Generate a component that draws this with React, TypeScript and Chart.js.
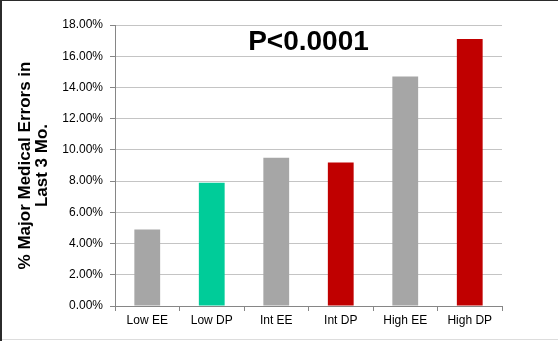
import React, { useEffect, useRef } from "react";
import { Chart, registerables } from "chart.js";

Chart.register(...registerables);

const categories = ["Low EE", "Low DP", "Int EE", "Int DP", "High EE", "High DP"];
const values = [4.9, 7.9, 9.5, 9.2, 14.7, 17.1];
const barColors = ["#A6A6A6", "#00CC99", "#A6A6A6", "#C00000", "#A6A6A6", "#C00000"];
const yTitle = ["% Major Medical Errors in", "Last 3 Mo."];
const annotation = "P<0.0001";

const decorPlugin = {
  id: "decor",
  beforeDraw(chart: any) {
    const { ctx, width, height } = chart;
    ctx.save();
    ctx.fillStyle = "#FFFFFF";
    ctx.fillRect(0, 0, width, height);
    ctx.restore();
  },
  afterDraw(chart: any) {
    const { ctx, width, height, chartArea } = chart;
    ctx.save();
    ctx.fillStyle = "#2B2B2B";
    ctx.fillRect(0, 0, width, 1);
    ctx.fillRect(0, 0, 2, height);
    ctx.fillStyle = "#DDDDDD";
    ctx.fillRect(2, height - 2, width - 2, 1);
    ctx.fillStyle = "#000000";
    ctx.font = "bold 28px 'Liberation Sans', Arial, sans-serif";
    ctx.textAlign = "center";
    ctx.textBaseline = "alphabetic";
    ctx.fillText(annotation, (chartArea.left + chartArea.right) / 2, chartArea.top + 25);
    ctx.restore();
  },
};

export default function App() {
  const ref = useRef<HTMLCanvasElement>(null);
  useEffect(() => {
    if (!ref.current) return;
    const chart = new Chart(ref.current, {
      type: "bar",
      data: {
        labels: categories,
        datasets: [
          {
            data: values,
            backgroundColor: barColors,
            borderWidth: 0,
            barPercentage: 0.4,
            categoryPercentage: 1,
          },
        ],
      },
      options: {
        animation: false,
        responsive: false,
        maintainAspectRatio: false,
        layout: { padding: { top: 25, right: 56, bottom: 0, left: 0 } },
        plugins: { legend: { display: false }, tooltip: { enabled: false }, title: { display: false } },
        scales: {
          x: {
            afterFit: (s: any) => {
              s.height = 35;
            },
            grid: {
              display: true,
              drawOnChartArea: false,
              drawTicks: true,
              tickLength: 5,
              color: "#868686",
              offset: true,
            },
            border: { display: true, color: "#868686", width: 1 },
            ticks: {
              color: "#000000",
              padding: 2,
              font: { family: "'Liberation Sans', Arial, sans-serif", size: 12 },
              maxRotation: 0,
              autoSkip: false,
            },
          },
          y: {
            min: 0,
            max: 18,
            afterFit: (s: any) => {
              s.width = 115;
            },
            grid: {
              color: "#C4C4C4",
              tickColor: "#868686",
              tickLength: 5,
              drawTicks: true,
            },
            border: { display: true, color: "#868686", width: 1 },
            ticks: {
              stepSize: 2,
              color: "#000000",
              padding: 7,
              font: { family: "'Liberation Sans', Arial, sans-serif", size: 12 },
              callback: (v: any) => Number(v).toFixed(2) + "%",
            },
            title: {
              display: true,
              text: yTitle,
              color: "#000000",
              font: { family: "'Liberation Sans', Arial, sans-serif", size: 17, weight: "bold", lineHeight: 1.05 },
              padding: { top: 16, bottom: 0 },
            },
          },
        },
      },
      plugins: [decorPlugin],
    });
    return () => chart.destroy();
  }, []);
  return (
    <div style={{ position: "fixed", left: 0, top: 0, width: 558, height: 341 }}>
      <canvas ref={ref} width={558} height={341} style={{ width: 558, height: 341, display: "block" }} />
    </div>
  );
}
